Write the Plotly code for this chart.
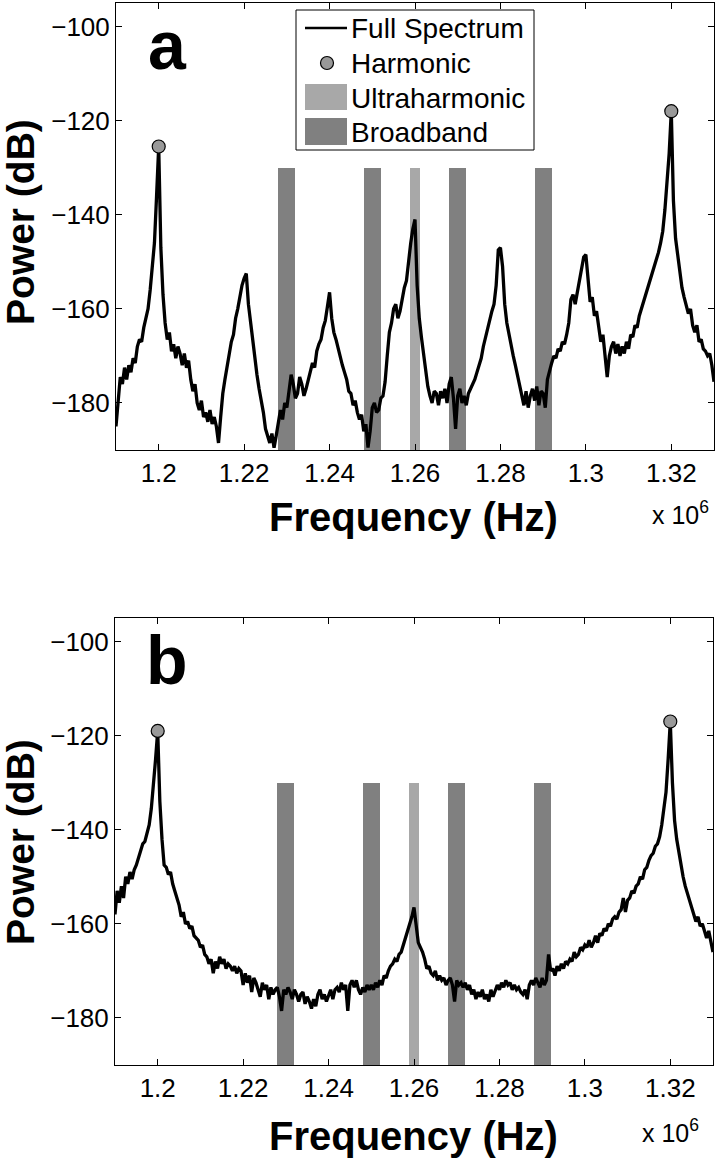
import plotly.graph_objects as go

# ---------------- data ----------------
freq_start_hz = 1.19e6
freq_step_hz = 500.0

power_a = [
    -185, -179, -174.5, -176, -172.5, -175, -172, -173.5, -170.5, -171.5,
    -168, -166.5, -167, -164, -162, -160, -156, -151.5, -146, -136,
    -125.5, -147, -157, -163, -166.5, -165, -169, -167.5, -170.5, -168,
    -169.5, -172, -169.5, -172.5, -171, -175, -177.5, -176, -180, -181.5,
    -179.5, -183, -182, -184, -181.5, -184.5, -183, -185, -188.5, -183,
    -178, -175, -172.5, -169.5, -167, -165.5, -162, -160, -157, -155,
    -153.5, -152.5, -159, -163, -167, -171, -174, -177, -179.5, -182,
    -185.5, -187, -188.5, -186.5, -189.5, -187, -184, -181.5, -183.5, -180,
    -181, -177.5, -174, -176, -179, -178, -174.5, -176, -178.5, -177,
    -175, -173, -171.5, -172.5, -169, -167.5, -166.5, -164, -162.5, -159.5,
    -156.5, -162, -165, -166.5, -168.5, -170, -172, -173.5, -175, -177.5,
    -178, -180.5, -179.5, -182, -183.5, -182.5, -186, -184.5, -189.5, -186,
    -181, -180, -182, -181.5, -179, -178.5, -175.5, -170, -165, -163,
    -160, -159, -162, -160.5, -158, -155.5, -154, -149.5, -146, -143,
    -141, -155, -162, -166, -169.5, -174, -176.5, -178.5, -180, -177.5,
    -178, -180.5, -177.5, -179, -177, -180, -176, -174.5, -179, -185.5,
    -178.5, -177, -180, -178.5, -180.5, -178, -177, -176, -175, -173.5,
    -172, -170.5, -168, -166, -164, -162.5, -160.5, -159, -155, -147.5,
    -147, -151, -159, -163, -165.5, -167.5, -170, -172, -174, -176.5,
    -178, -180.5, -177.5, -181, -178.5, -177, -179.5, -176.5, -180.5, -177.5,
    -178, -181, -175, -173, -171.5, -170, -170.5, -168.5, -169, -167,
    -167.5, -165.5, -163, -158, -157, -159, -156.5, -154, -151, -149,
    -148.5, -154, -158.5, -157.5, -161.5, -160.5, -164, -167, -165.5, -170,
    -174.5, -170, -168, -167, -169.5, -167.5, -170, -168, -169.5, -167,
    -168.5, -165.5, -166, -163.5, -164, -161.5, -160, -159, -157.5, -156,
    -154.5, -153, -151.5, -150, -148, -146, -143.5, -139, -133.5, -127,
    -118, -137, -145, -149, -152.5, -155.5, -157.5, -159.5, -161, -160,
    -163.5, -165, -163.5, -167, -166.5, -168.5, -169, -170, -169.5, -172,
    -175.5,
]

power_b = [
    -158, -153, -155.5, -152, -154.5, -150, -151.5, -149, -150.5, -148.5,
    -147.5, -146, -145, -143, -142.5, -140.5, -139, -135.5, -131, -125,
    -119, -134, -142, -147.5, -148, -149.5, -149, -151.5, -153, -154.5,
    -156, -158.5, -157.5, -160, -159.5, -161, -160.5, -162.5, -163, -163.5,
    -165, -164.5, -166.5, -167, -168.5, -167.5, -170.5, -168, -169.5, -167,
    -168.5, -167.5, -169.5, -168.5, -169, -170, -169, -170.5, -169.5, -170,
    -173, -170.5, -172.5, -171, -174.5, -171.5, -172.5, -174, -175.5, -172.5,
    -174, -173, -176, -173.5, -175, -174, -173.5, -175.5, -178.5, -174,
    -175, -173.5, -174.5, -176, -174, -175, -176.5, -175, -174.5, -177,
    -175.5, -176.5, -178, -176, -177.5, -175, -174, -176, -175, -176.5,
    -175, -174, -176, -174, -173.5, -174.5, -172.5, -174, -173, -178.5,
    -173, -172, -173.5, -172, -174, -175, -173.5, -174.5, -173, -174,
    -173, -174, -172.5, -173.5, -172, -173, -171, -171.5, -170, -169,
    -168.5, -167.5, -168, -166.5, -166, -164.5, -163.5, -162, -160.5, -158.5,
    -156.5, -161, -164, -165, -166, -167.5, -169.5, -169, -170.5, -171,
    -170, -172, -171, -172, -171.5, -173, -172, -171.5, -173, -176.5,
    -172, -173, -172.5, -173.5, -172.5, -174, -173, -175, -174, -176,
    -174.5, -175.5, -174, -176, -175, -176.5, -174, -175.5, -174, -173,
    -174, -172.5, -173.5, -172, -173, -172.5, -174, -173, -174, -173.5,
    -174.5, -175, -174, -176, -173, -172, -173, -171.5, -172.5, -173.5,
    -171.5, -173, -172, -166.5, -170, -169.5, -171, -169, -170, -168.5,
    -169.5, -168, -168.5, -167.5, -168, -166, -167, -166.5, -165, -165.5,
    -164.5, -165, -163.5, -165, -164, -162.5, -164, -162, -162.5, -161,
    -161.5, -160, -160.5, -159, -158.5, -159, -157.5, -157, -154.5, -157.5,
    -155, -154.5, -153, -153.5, -152, -151.5, -150, -150.5, -148.5, -148,
    -146.5, -145.5, -145, -143.5, -143, -141.5, -139, -136, -132, -125,
    -117, -130, -138, -142, -145, -148, -150, -152, -153.5, -155,
    -157, -158, -159.5, -158.5, -160.5, -160, -161.5, -163, -161.5, -164,
    -166,
]

harmonic_freq = [1.20e6, 1.32e6]
harmonic_power_a = [-125.5, -118.0]
harmonic_power_b = [-119.0, -117.0]

broadband_centers = [1.23e6, 1.25e6, 1.27e6, 1.29e6]
broadband_width = 4000.0
ultra_centers = [1.26e6]
ultra_width = 2200.0
band_top = -130.0
band_floor = -190.0

x_tickvals = [1.20e6, 1.22e6, 1.24e6, 1.26e6, 1.28e6, 1.30e6, 1.32e6]
x_ticktext = ["1.2", "1.22", "1.24", "1.26", "1.28", "1.3", "1.32"]
y_tickvals = [-180, -160, -140, -120, -100]

legend_labels = ["Full Spectrum", "Harmonic", "Ultraharmonic", "Broadband"]

# ---------------- styling ----------------
W, H = 718, 1160
FONT = "Liberation Sans, Arial, Helvetica, sans-serif"
C_BROAD = "#808080"
C_ULTRA = "#a8a8a8"
C_MARK = "#999999"

freqs_a = [freq_start_hz + i * freq_step_hz for i in range(len(power_a))]
freqs_b = [freq_start_hz + i * freq_step_hz for i in range(len(power_b))]


def px(x):
    return x / W


def py(y):
    return 1 - y / H


fig = go.Figure()

panels = [
    ("x", "y", freqs_a, power_a, harmonic_power_a),
    ("x2", "y2", freqs_b, power_b, harmonic_power_b),
]
for xa, ya, fr, pw, hp in panels:
    fig.add_trace(go.Bar(
        x=broadband_centers, y=[band_top - band_floor] * len(broadband_centers),
        base=[band_floor] * len(broadband_centers), width=broadband_width,
        marker=dict(color=C_BROAD, line=dict(width=0)),
        xaxis=xa, yaxis=ya, showlegend=False, name="Broadband"))
    fig.add_trace(go.Bar(
        x=ultra_centers, y=[band_top - band_floor] * len(ultra_centers),
        base=[band_floor] * len(ultra_centers), width=ultra_width,
        marker=dict(color=C_ULTRA, line=dict(width=0)),
        xaxis=xa, yaxis=ya, showlegend=False, name="Ultraharmonic"))
    fig.add_trace(go.Scatter(
        x=fr, y=pw, mode="lines", line=dict(color="black", width=3.3),
        xaxis=xa, yaxis=ya, showlegend=False, name="Full Spectrum"))
    fig.add_trace(go.Scatter(
        x=harmonic_freq, y=hp, mode="markers",
        marker=dict(size=13, color=C_MARK, line=dict(color="black", width=1.2)),
        xaxis=xa, yaxis=ya, showlegend=False, name="Harmonic"))

axis_common = dict(
    showgrid=False, zeroline=False, showline=True, linecolor="black",
    linewidth=1, mirror="ticks", ticks="inside", ticklen=6, tickcolor="black",
    tickwidth=1, tickfont=dict(family=FONT, size=26, color="black"),
)

fig.update_layout(
    width=W, height=H,
    margin=dict(l=0, r=0, t=0, b=0),
    paper_bgcolor="white", plot_bgcolor="white",
    barmode="overlay", bargap=0, showlegend=False,
    xaxis=dict(domain=[px(116), px(714)], range=[1.19e6, 1.33e6],
               tickvals=x_tickvals, ticktext=x_ticktext, anchor="y", **axis_common),
    yaxis=dict(domain=[py(450), py(3)], range=[-190, -95],
               tickvals=y_tickvals, anchor="x", **axis_common),
    xaxis2=dict(domain=[px(115), px(713)], range=[1.19e6, 1.33e6],
                tickvals=x_tickvals, ticktext=x_ticktext, anchor="y2", **axis_common),
    yaxis2=dict(domain=[py(1065), py(618)], range=[-190, -95],
                tickvals=y_tickvals, anchor="x2", **axis_common),
)

ann = []
for (pcy, fcy, xcx, xcy, letter, lcy) in [(222, 517, 650, 513, "a", 45),
                                           (842, 1136, 640, 1131, "b", 660)]:
    ann.append(dict(text="<b>Power (dB)</b>", x=px(20), y=py(pcy), xref="paper", yref="paper",
                    textangle=-90, showarrow=False, xanchor="center", yanchor="middle",
                    font=dict(family=FONT, size=39, color="black")))
    ann.append(dict(text="<b>Frequency (Hz)</b>", x=px(414), y=py(fcy), xref="paper", yref="paper",
                    showarrow=False, xanchor="center", yanchor="middle",
                    font=dict(family=FONT, size=40, color="black")))
    ann.append(dict(text="x 10<sup>6</sup>", x=px(xcx), y=py(xcy), xref="paper", yref="paper",
                    showarrow=False, xanchor="left", yanchor="middle",
                    font=dict(family=FONT, size=25, color="black")))
    ann.append(dict(text="<b>" + letter + "</b>", x=px(167), y=py(lcy), xref="paper", yref="paper",
                    showarrow=False, xanchor="center", yanchor="middle",
                    font=dict(family=FONT, size=68, color="black")))

# legend (panel a)
shapes = []
shapes.append(dict(type="rect", xref="paper", yref="paper",
                   x0=px(296), x1=px(534), y0=py(150), y1=py(10),
                   line=dict(color="black", width=1), fillcolor="white", layer="above"))
shapes.append(dict(type="line", xref="paper", yref="paper",
                   x0=px(305), x1=px(347), y0=py(28), y1=py(28),
                   line=dict(color="black", width=2.6), layer="above"))
shapes.append(dict(type="circle", xref="paper", yref="paper",
                   x0=px(320.5), x1=px(333.5), y0=py(69.5), y1=py(56.5),
                   line=dict(color="black", width=1.2), fillcolor=C_MARK, layer="above"))
shapes.append(dict(type="rect", xref="paper", yref="paper",
                   x0=px(305), x1=px(347), y0=py(110), y1=py(84),
                   line=dict(width=0), fillcolor=C_ULTRA, layer="above"))
shapes.append(dict(type="rect", xref="paper", yref="paper",
                   x0=px(305), x1=px(347), y0=py(145), y1=py(118),
                   line=dict(width=0), fillcolor=C_BROAD, layer="above"))
for lab, cy in zip(legend_labels, [28, 63, 98, 132]):
    ann.append(dict(text=lab, x=px(349), y=py(cy), xref="paper", yref="paper",
                    showarrow=False, xanchor="left", yanchor="middle",
                    font=dict(family=FONT, size=28, color="black")))

fig.update_layout(annotations=ann, shapes=shapes)
fig.write_html(
    "out.html",
    config={"displayModeBar": False},
    post_script="document.body.style.margin='0px';document.body.style.overflow='hidden';",
)
